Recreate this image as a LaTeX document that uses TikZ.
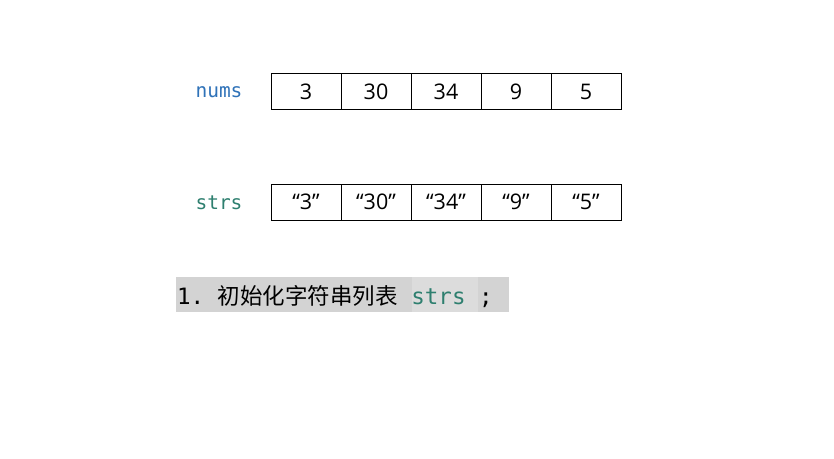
\documentclass[tikz,border=0pt]{standalone}
\usepackage{fontspec}
\setmainfont{Open Sans}
\newfontfamily\monof{DejaVu Sans Mono}
\newfontfamily\cjk{Noto Sans CJK SC}
\definecolor{numsblue}{HTML}{2F72B8}
\definecolor{strsteal}{HTML}{2E7F6F}
\definecolor{bargray}{HTML}{D3D3D3}
\definecolor{bargraylight}{HTML}{DCDCDC}
\begin{document}
\begin{tikzpicture}[x=1pt,y=-1pt,
  cell/.style={draw=black,line width=0.9pt,minimum width=70pt,minimum height=36pt,inner sep=0pt,
    font=\fontsize{21.5}{21.5}\selectfont},
  lbl/.style={font=\monof\fontsize{19.5}{19.5}\selectfont,inner sep=0pt},
  every node/.style={anchor=center}]
\useasboundingbox (0,0) rectangle (834,458);
% nums row
\foreach \v [count=\i] in {3,30,34,9,5}{
  \node[cell] (n\i) at ({271+70*(\i-1)+35},91.5) {\v};
}
\node[lbl,text=numsblue] (numslbl) at (219,92.5) {nums};
% strs row
\foreach \v [count=\i] in {3,30,34,9,5}{
  \node[cell] (s\i) at ({271+70*(\i-1)+35},202) {``\v''};
}
\node[lbl,text=strsteal] (strslbl) at (219,202.5) {strs};
% caption bar
\fill[bargray] (176,277) rectangle (509,312);
\fill[bargraylight] (412,277) rectangle (478,312);
\node[anchor=west,inner sep=0pt,font=\fontsize{22.5}{22.5}\selectfont] (cap) at (177,297)
  {{\monof 1.\ }{\cjk 初始化字符串列表}{\monof\ }{\monof\color{strsteal}strs}{\monof\ ;}};
\end{tikzpicture}
\end{document}
